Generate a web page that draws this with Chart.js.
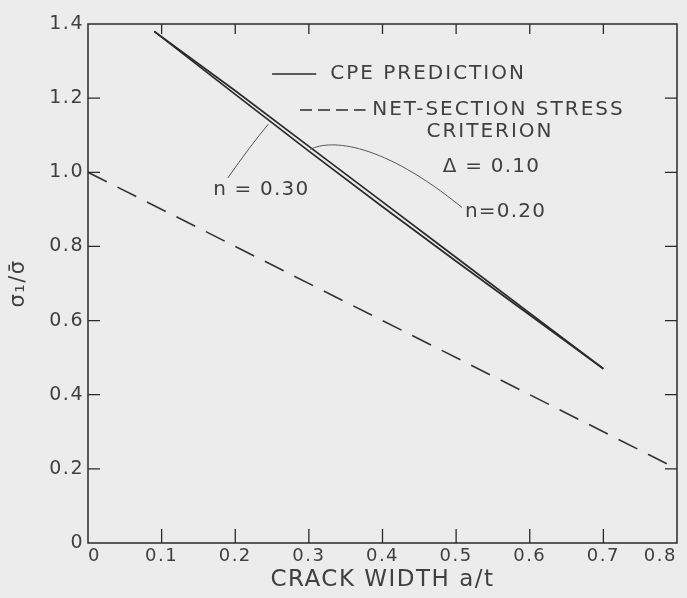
<!DOCTYPE html>
<html>
<head>
<meta charset="utf-8">
<script src="https://cdn.jsdelivr.net/npm/chart.js@4"></script>
<style>
  html, body { margin: 0; padding: 0; background: #ececec; }
  #wrap { width: 687px; height: 598px; }
</style>
</head>
<body>
<div id="wrap"><canvas id="mainChart" width="687" height="598"></canvas></div>
<script>
// data
const cpeX = [0.09, 0.2, 0.3, 0.4, 0.5, 0.6, 0.7];
const cpeN020 = [1.38, 1.22, 1.07, 0.92, 0.77, 0.62, 0.47];
const cpeN030 = [1.38, 1.21, 1.057, 0.907, 0.76, 0.615, 0.47];
const netX = [0, 0.8];
const netY = [1.0, 0.2];

const xTicks = [0, 0.1, 0.2, 0.3, 0.4, 0.5, 0.6, 0.7, 0.8];
const yTicks = [0, 0.2, 0.4, 0.6, 0.8, 1.0, 1.2, 1.4];

const ink = '#2a2a2a';
const textInk = '#404040';
const font = "'DejaVu Sans', sans-serif";

const toPts = (xs, ys) => xs.map((x, i) => ({ x: x, y: ys[i] }));

// wider lettering like the old typed figure
const spacing = {
    id: 'spacing',
    beforeLayout(chart) { chart.ctx.letterSpacing = '1.5px'; },
    beforeDraw(chart) { chart.ctx.letterSpacing = '1.5px'; }
};

// frame, inner ticks, legend and labels
const decor = {
    id: 'decor',
    afterDatasetsDraw(chart) {
        const c = chart.ctx;
        const a = chart.chartArea;
        const xs = chart.scales.x, ys = chart.scales.y;
        const px = v => xs.getPixelForValue(v);
        const py = v => ys.getPixelForValue(v);
        c.save();
        c.strokeStyle = ink;
        c.lineWidth = 1.5;
        c.strokeRect(a.left, a.top, a.right - a.left, a.bottom - a.top);

        // inward ticks
        c.lineWidth = 1.3;
        xTicks.slice(1, -1).forEach(v => {
            c.beginPath();
            c.moveTo(px(v), a.bottom); c.lineTo(px(v), a.bottom - 14);
            c.moveTo(px(v), a.top); c.lineTo(px(v), a.top + 10);
            c.stroke();
        });
        yTicks.slice(1, -1).forEach(v => {
            c.beginPath();
            c.moveTo(a.left, py(v)); c.lineTo(a.left + 12, py(v));
            c.moveTo(a.right, py(v)); c.lineTo(a.right - 12, py(v));
            c.stroke();
        });

        // legend
        c.lineWidth = 1.5;
        c.beginPath();
        c.moveTo(px(0.25), py(1.265)); c.lineTo(px(0.31), py(1.265));
        c.stroke();
        c.setLineDash([12, 6]);
        c.beginPath();
        c.moveTo(px(0.288), py(1.168)); c.lineTo(px(0.377), py(1.168));
        c.stroke();
        c.setLineDash([]);

        c.fillStyle = textInk;
        c.font = '20px ' + font;
        c.letterSpacing = '2px';
        c.textBaseline = 'middle';
        c.textAlign = 'left';
        c.fillText('CPE PREDICTION', px(0.329), py(1.265));
        c.fillText('NET-SECTION STRESS', px(0.386), py(1.168));
        c.textAlign = 'center';
        c.fillText('CRITERION', px(0.546), py(1.109));
        c.letterSpacing = '1.2px';
        c.fillText('\u0394 = 0.10', px(0.548), py(1.014));
        c.textAlign = 'left';
        c.fillText('n = 0.30', px(0.17), py(0.952));
        c.fillText('n=0.20', px(0.512), py(0.893));

        // leader lines
        c.lineWidth = 1;
        c.strokeStyle = '#555';
        c.beginPath();
        c.moveTo(px(0.19), py(0.985));
        c.quadraticCurveTo(px(0.22), py(1.07), px(0.245), py(1.13));
        c.stroke();
        c.beginPath();
        c.moveTo(px(0.302), py(1.062));
        c.bezierCurveTo(px(0.33), py(1.09), px(0.4), py(1.08), px(0.508), py(0.905));
        c.stroke();
        c.restore();
    },
    afterDraw(chart) { chart.ctx.letterSpacing = '0px'; }
};

const ctx = document.getElementById('mainChart').getContext('2d');
new Chart(ctx, {
    type: 'scatter',
    data: {
        datasets: [
            {
                label: 'n = 0.20',
                data: toPts(cpeX, cpeN020),
                showLine: true,
                borderColor: ink,
                borderWidth: 1.7,
                pointRadius: 0,
                tension: 0
            },
            {
                label: 'n = 0.30',
                data: toPts(cpeX, cpeN030),
                showLine: true,
                borderColor: ink,
                borderWidth: 1.7,
                pointRadius: 0,
                tension: 0
            },
            {
                label: 'Net-section stress criterion',
                data: toPts(netX, netY),
                showLine: true,
                borderColor: '#333',
                borderWidth: 1.6,
                borderDash: [21, 12],
                pointRadius: 0
            }
        ]
    },
    options: {
        responsive: false,
        animation: false,
        layout: { padding: { top: 24, right: 10, left: 0, bottom: 0 } },
        plugins: {
            legend: { display: false },
            tooltip: { enabled: false }
        },
        scales: {
            x: {
                type: 'linear',
                min: 0, max: 0.8,
                grid: { display: false, tickLength: 0 },
                border: { display: false },
                afterBuildTicks: s => { s.ticks = xTicks.map(v => ({ value: v })); },
                afterFit: s => { s.height = 55; s.paddingRight = 0; s.paddingLeft = 0; },
                ticks: {
                    padding: 3,
                    align: 'inner',
                    color: textInk,
                    maxRotation: 0,
                    font: { family: font, size: 18 },
                    callback: v => v === 0 ? '0' : v.toFixed(1)
                },
                title: {
                    display: true,
                    text: 'CRACK WIDTH a/t',
                    color: textInk,
                    font: { family: font, size: 23 },
                    padding: { top: 0, bottom: 4 }
                }
            },
            y: {
                type: 'linear',
                min: 0, max: 1.4,
                grid: { display: false, tickLength: 0 },
                border: { display: false },
                afterBuildTicks: s => { s.ticks = yTicks.map(v => ({ value: v })); },
                afterFit: s => { s.width = 88; s.paddingTop = 0; s.paddingBottom = 0; },
                ticks: {
                    padding: 4,
                    color: textInk,
                    font: { family: font, size: 19 },
                    callback: v => v === 0 ? '0' : v.toFixed(1)
                },
                title: {
                    display: true,
                    text: 'σ\u2081/σ\u0304',
                    color: textInk,
                    font: { family: font, size: 21 },
                    padding: { top: 6, bottom: 0 }
                }
            }
        }
    },
    plugins: [spacing, decor]
});
</script>
</body>
</html>
